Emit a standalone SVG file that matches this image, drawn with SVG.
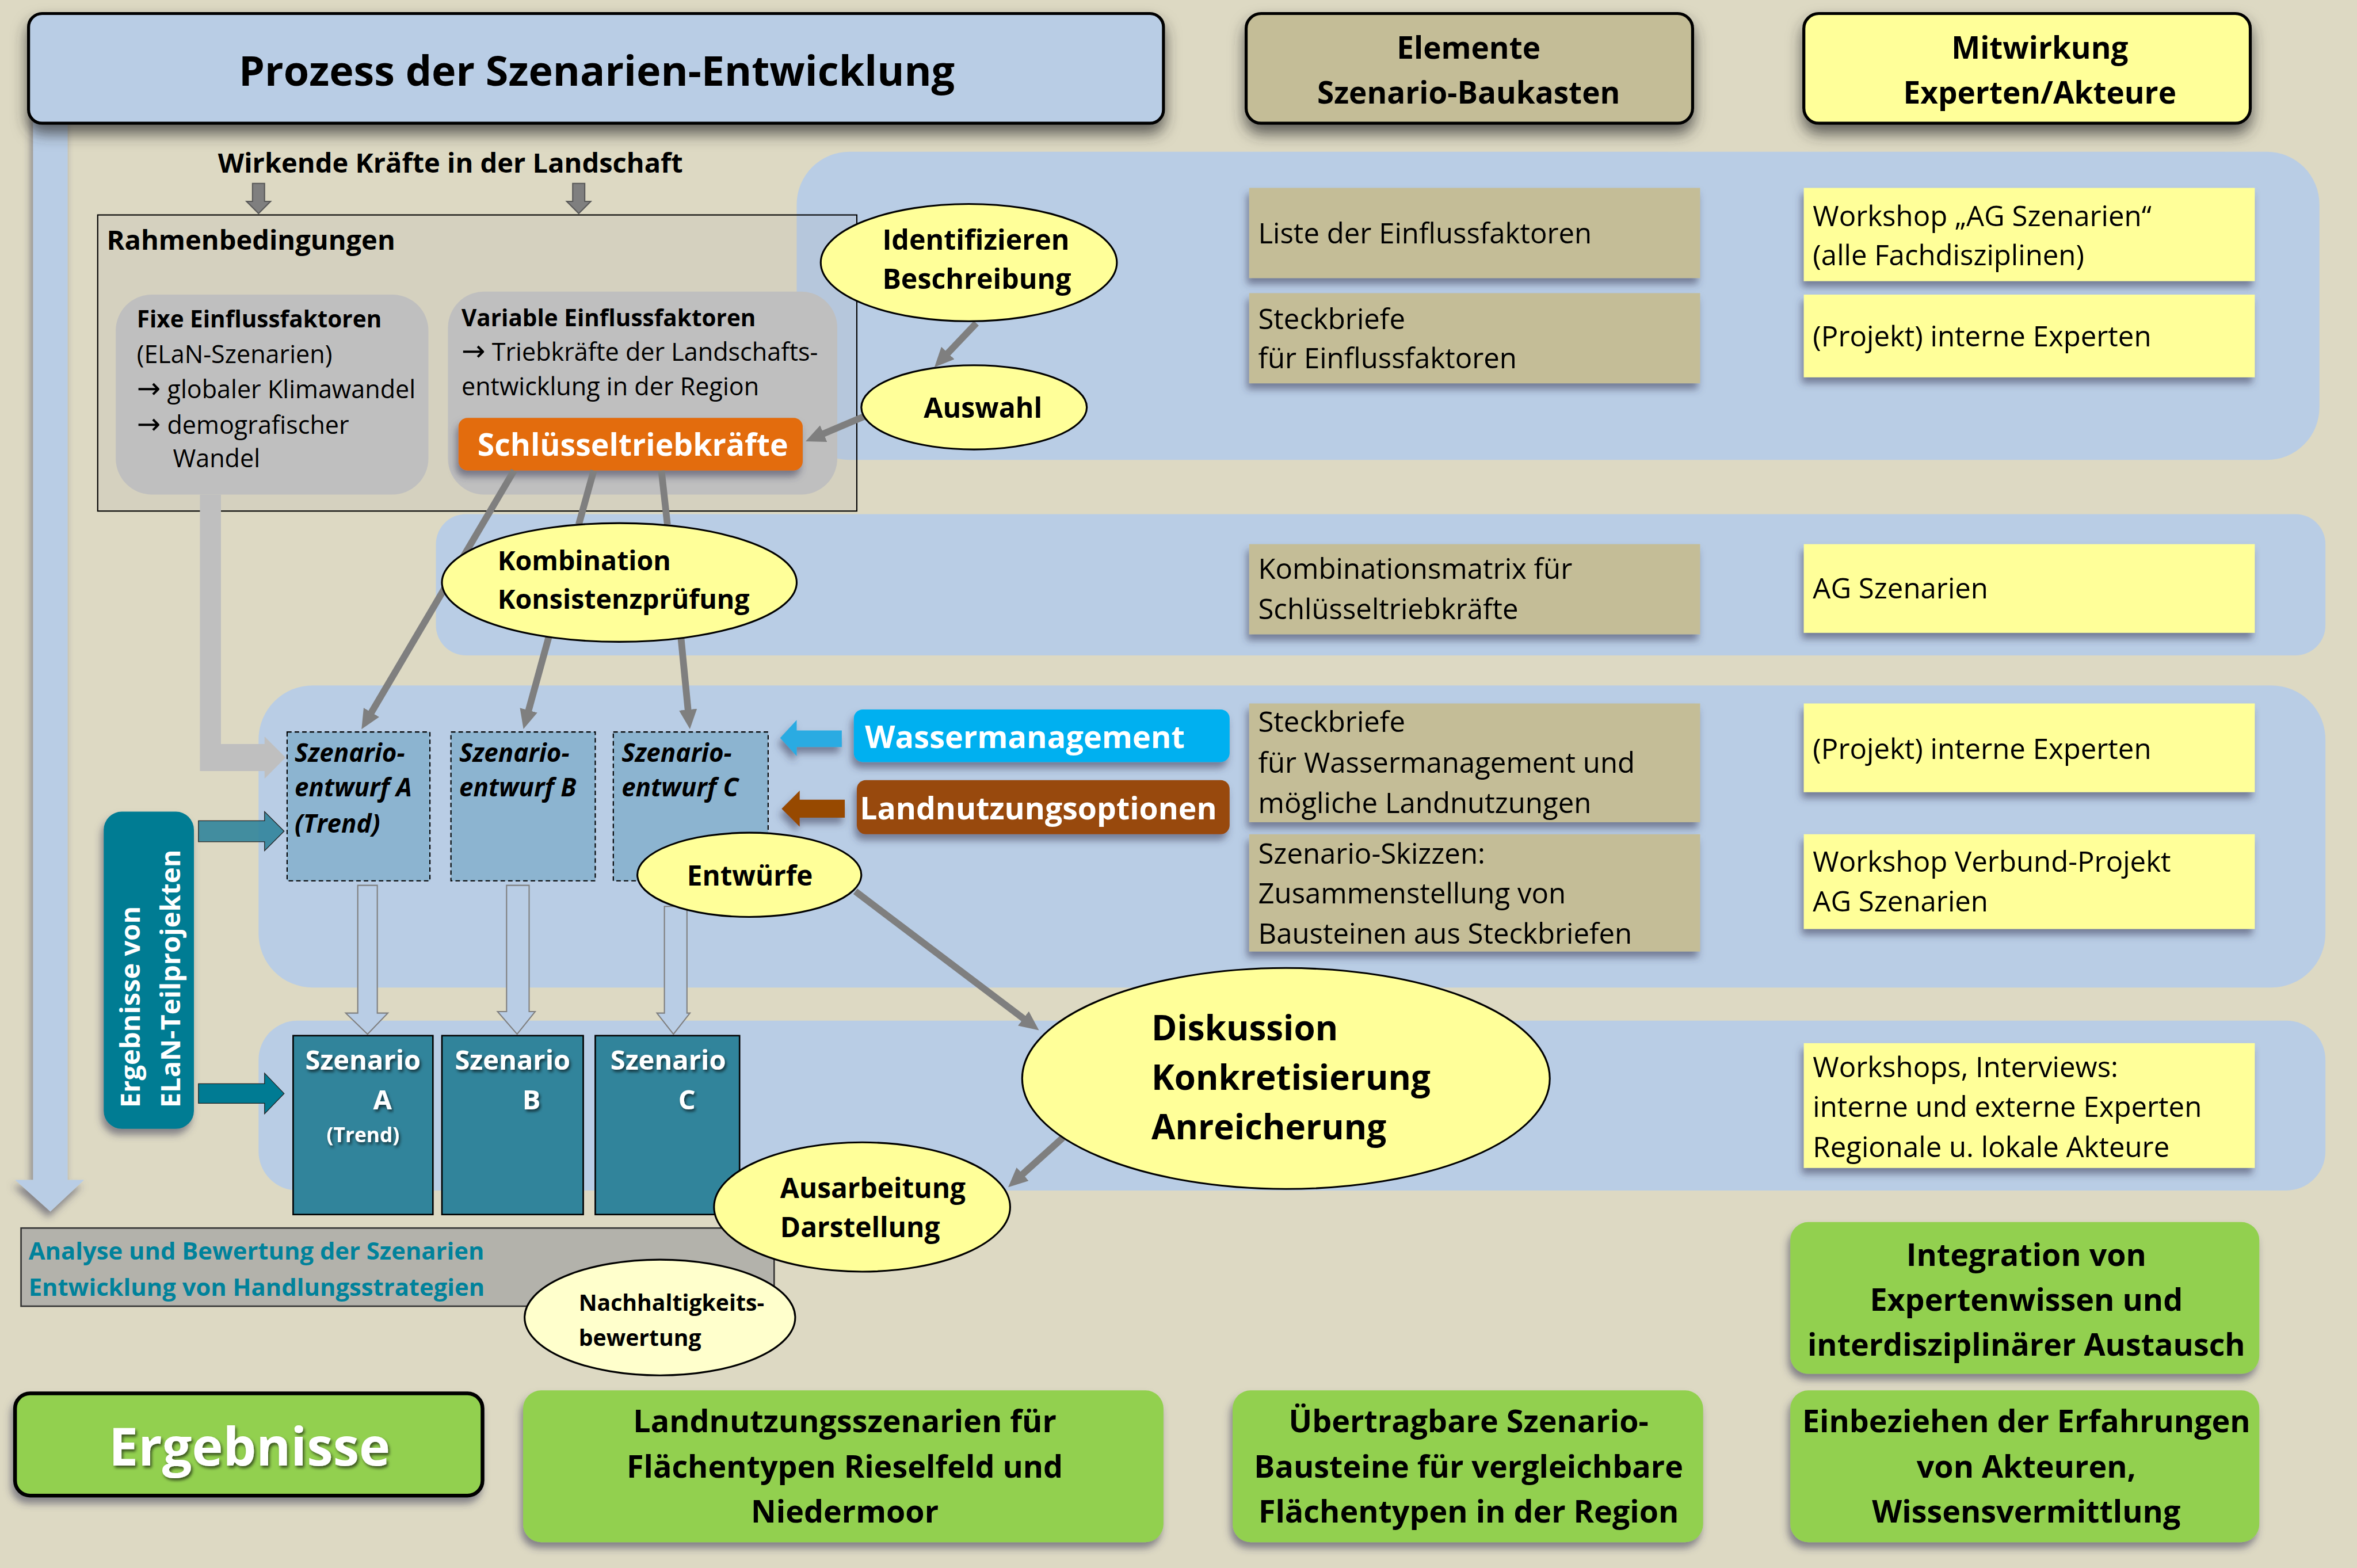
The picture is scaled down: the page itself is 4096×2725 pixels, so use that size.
<svg xmlns="http://www.w3.org/2000/svg" width="4096" height="2725" viewBox="0 0 4096 2725">
<defs>
<style>
text{font-family:'Open Sans','DejaVu Sans',sans-serif;fill:#000}
.b{font-weight:700}
.bi{font-weight:700;font-style:italic}
.mid{text-anchor:middle}
.band{fill:#B9CDE5}
.kh{fill:#C4BD97}
.ye{fill:#FFFF99}
.gr{fill:#92D050}
.ell{fill:#FFFF99;stroke:#000;stroke-width:1.2}
.ent{fill:#8CB4D0;stroke:#000;stroke-width:0.8;stroke-dasharray:3 2}
.scn{fill:#31849B;stroke:#000;stroke-width:1}
.rt{font-size:18.8px}
.gt{font-size:20.6px;font-weight:700}
.hd{font-size:20.3px;font-weight:700;text-anchor:middle}
.ar{font-size:19px}
.con{stroke:#7F7F7F;stroke-width:4.5;fill:none}
.wt{fill:#fff}
</style>
<filter id="sh" x="-20%" y="-20%" width="140%" height="150%">
<feDropShadow dx="-1.5" dy="4" stdDeviation="2.5" flood-color="#3a3a55" flood-opacity="0.55"/>
</filter>
<filter id="shT" x="-10%" y="-20%" width="120%" height="170%">
<feDropShadow dx="0" dy="6" stdDeviation="5" flood-color="#333" flood-opacity="0.75"/>
</filter>
<filter id="tsh" x="-10%" y="-20%" width="120%" height="150%">
<feDropShadow dx="1" dy="1.5" stdDeviation="1" flood-color="#000" flood-opacity="0.6"/>
</filter>
<marker id="ah" viewBox="0 0 13 12" refX="1" refY="6" markerWidth="13" markerHeight="12" markerUnits="userSpaceOnUse" orient="auto">
<path d="M0,0 L13,6 L0,12 z" fill="#7F7F7F"/>
</marker>
</defs>
<rect width="4096" height="2725" fill="#DDD9C3"/>
<g transform="scale(2.612245)">
<g id="bands">
<rect class="band" x="530" y="101" width="1013" height="205" rx="35"/>
<rect class="band" x="290" y="342" width="1257" height="94" rx="20"/>
<rect class="band" x="172" y="456" width="1375" height="201" rx="36"/>
<rect class="band" x="172" y="679" width="1375" height="113" rx="26"/>
</g>
<g id="process-arrow">
<path d="M22,72 L45,72 L45,785 L56,785 L33.5,806 L10,785 L22,785 z" fill="#B9CDE5" filter="url(#sh)"/>
</g>
<g id="title">
<rect x="19" y="9" width="755" height="73" rx="9" fill="#B9CDE5" stroke="#000" stroke-width="2" filter="url(#shT)"/>
<text class="b mid" x="397" y="57" font-size="27.5">Prozess der Szenarien-Entwicklung</text>
</g>
<g id="hdr-elemente">
<rect x="829" y="9" width="297" height="73" rx="10" fill="#C4BD97" stroke="#000" stroke-width="2" filter="url(#shT)"/>
<text class="hd" x="977" y="39">Elemente</text>
<text class="hd" x="977" y="69">Szenario-Baukasten</text>
</g>
<g id="hdr-mitwirkung">
<rect x="1200" y="9" width="297" height="73" rx="10" fill="#FFFF99" stroke="#000" stroke-width="2" filter="url(#shT)"/>
<text class="hd" x="1357" y="39">Mitwirkung</text>
<text class="hd" x="1357" y="69">Experten/Akteure</text>
</g>
<g id="wirkende">
<text class="b" x="145" y="115" font-size="18">Wirkende Kräfte in der Landschaft</text>
</g>
<g id="rahmen">
<rect x="65" y="143" width="505" height="197" fill="#A8A8A8" fill-opacity="0.15" stroke="#000" stroke-width="0.8"/>
<text class="b" x="71" y="166" font-size="18">Rahmenbedingungen</text>
</g>
<g id="fixe">
<rect x="77" y="196" width="208" height="133" rx="24" fill="#BFBFBF"/>
<text class="b" x="91" y="218" font-size="15.5">Fixe Einflussfaktoren</text>
<text x="91" y="241.5" font-size="16.5">(ELaN-Szenarien)</text>
<text x="91" y="265" font-size="16.5"><tspan class="ar">→</tspan> globaler Klimawandel</text>
<text x="91" y="288.5" font-size="16.5"><tspan class="ar">→</tspan> demografischer</text>
<text x="115" y="311" font-size="16.5">Wandel</text>
</g>
<g id="variable">
<rect x="298" y="194" width="259" height="135" rx="24" fill="#BFBFBF"/>
<text class="b" x="307" y="217" font-size="15.5">Variable Einflussfaktoren</text>
<text x="307" y="240" font-size="16.5"><tspan class="ar">→</tspan> Triebkräfte der Landschafts-</text>
<text x="307" y="263" font-size="16.5">entwicklung in der Region</text>
</g>
<g id="schluessel">
<rect x="305" y="278" width="229" height="35" rx="6" fill="#E36C0A" filter="url(#sh)"/>
<text class="b mid wt" x="421" y="303" font-size="20.5">Schlüsseltriebkräfte</text>
</g>
<g id="connectors">
<path d="M168,122 L176,122 L176,134 L180,134 L172,142 L164,134 L168,134 z" fill="#7F7F7F" stroke="#595959" stroke-width="0.8"/>
<path d="M381,122 L389,122 L389,134 L393,134 L385,142 L377,134 L381,134 z" fill="#7F7F7F" stroke="#595959" stroke-width="0.8"/>
<path d="M133,329 L147,329 L147,495 L176,495 L176,490 L190,504 L176,518 L176,513 L133,513 z" fill="#BFBFBF"/>
<path d="M132,546 L176,546 L176,540 L189,553 L176,566 L176,560 L132,560 z" fill="#31849B" fill-opacity="0.9" stroke="#222" stroke-width="0.5"/>
<path d="M132,721 L176,721 L176,714 L189,727.5 L176,741 L176,734 L132,734 z" fill="#007B93" stroke="#222" stroke-width="0.5"/>
<path d="M560,486 L530,486 L530,479 L519,491 L530,503 L530,497 L560,497 z" fill="#29ABE2" filter="url(#sh)"/>
<path d="M562,532 L532,532 L532,526 L520,538 L532,550 L532,544 L562,544 z" fill="#974806" filter="url(#sh)"/>
<line class="con" x1="649.5" y1="215" x2="629.9" y2="235.6" marker-end="url(#ah)"/>
<line class="con" x1="575" y1="277" x2="547" y2="288.9" marker-end="url(#ah)"/>
<line class="con" x1="342" y1="313" x2="246.6" y2="474.8" marker-end="url(#ah)"/>
<line class="con" x1="395" y1="313" x2="385" y2="349"/>
<line class="con" x1="365" y1="424" x2="351.4" y2="473.5" marker-end="url(#ah)"/>
<line class="con" x1="440" y1="313" x2="444" y2="349"/>
<line class="con" x1="453" y1="424" x2="457.8" y2="473.1" marker-end="url(#ah)"/>
<line class="con" x1="569" y1="593" x2="681.6" y2="678.2" marker-end="url(#ah)"/>
<line class="con" x1="707" y1="757" x2="679.6" y2="781.8" marker-end="url(#ah)"/>
<path d="M238,589 L251,589 L251,674 L258,674 L244.5,688 L230,674 L238,674 z" fill="#B9CDE5" stroke="#7F7F7F" stroke-width="0.8"/>
<path d="M337,589 L352,589 L352,673 L356,673 L344,688 L331,673 L337,673 z" fill="#B9CDE5" stroke="#7F7F7F" stroke-width="0.8"/>
<path d="M442,603 L457,603 L457,674 L459,674 L448,688 L437,674 L442,674 z" fill="#B9CDE5" stroke="#7F7F7F" stroke-width="0.8"/>
</g>
<g id="identifizieren">
<ellipse class="ell" cx="644.5" cy="174.7" rx="98.5" ry="39"/>
<text class="b" x="587" y="166" font-size="18.5">Identifizieren</text>
<text class="b" x="587" y="192" font-size="18.5">Beschreibung</text>
</g>
<g id="auswahl">
<ellipse class="ell" cx="648" cy="271" rx="75" ry="28"/>
<text class="b" x="614.5" y="278" font-size="18.5">Auswahl</text>
</g>
<g id="kombination">
<ellipse class="ell" cx="412" cy="387.5" rx="118" ry="39.5"/>
<text class="b" x="331" y="379.5" font-size="17.8">Kombination</text>
<text class="b" x="331" y="405" font-size="17.8">Konsistenzprüfung</text>
</g>
<g id="entwurf-a">
<rect class="ent" x="191" y="487" width="95" height="99"/>
<text class="bi" x="196" y="507" font-size="16.8">Szenario-</text>
<text class="bi" x="196" y="530" font-size="16.8">entwurf A</text>
<text class="bi" x="196" y="554" font-size="16.8">(Trend)</text>
</g>
<g id="entwurf-b">
<rect class="ent" x="300" y="487" width="96" height="99"/>
<text class="bi" x="305.5" y="507" font-size="16.8">Szenario-</text>
<text class="bi" x="305.5" y="530" font-size="16.8">entwurf B</text>
</g>
<g id="entwurf-c">
<rect class="ent" x="408" y="487" width="103" height="99"/>
<text class="bi" x="413.5" y="507" font-size="16.8">Szenario-</text>
<text class="bi" x="413.5" y="530" font-size="16.8">entwurf C</text>
</g>
<g id="wassermanagement">
<rect x="568" y="472" width="250" height="35" rx="6" fill="#00B0F0" filter="url(#sh)"/>
<text class="b wt" x="575.5" y="497.5" font-size="20.7">Wassermanagement</text>
</g>
<g id="landnutzungsoptionen">
<rect x="570" y="519" width="248" height="36" rx="6" fill="#984807" filter="url(#sh)"/>
<text class="b wt" x="572" y="545" font-size="20.5">Landnutzungsoptionen</text>
</g>
<g id="entwuerfe">
<ellipse class="ell" cx="498.5" cy="582" rx="74.5" ry="28"/>
<text class="b" x="457" y="589" font-size="18.2">Entwürfe</text>
</g>
<g id="ergebnisse-von">
<rect x="69" y="540" width="60" height="211" rx="12" fill="#007B93" filter="url(#sh)"/>
<text class="b wt" transform="translate(93,737) rotate(-90)" font-size="18">Ergebnisse von</text>
<text class="b wt" transform="translate(120,737) rotate(-90)" font-size="18">ELaN-Teilprojekten</text>
</g>
<g id="szenario-a">
<rect class="scn" x="195" y="689" width="93" height="119"/>
<text class="b mid wt" x="241.5" y="711.5" font-size="18" filter="url(#tsh)">Szenario</text>
<text class="b mid wt" x="254.5" y="738" font-size="18" filter="url(#tsh)">A</text>
<text class="b mid wt" x="241.5" y="760" font-size="13.5" filter="url(#tsh)">(Trend)</text>
</g>
<g id="szenario-b">
<rect class="scn" x="294" y="689" width="94" height="119"/>
<text class="b mid wt" x="341" y="711.5" font-size="18" filter="url(#tsh)">Szenario</text>
<text class="b mid wt" x="353.5" y="738" font-size="18" filter="url(#tsh)">B</text>
</g>
<g id="szenario-c">
<rect class="scn" x="396" y="689" width="96" height="119"/>
<text class="b mid wt" x="444.5" y="711.5" font-size="18" filter="url(#tsh)">Szenario</text>
<text class="b mid wt" x="457" y="738" font-size="18" filter="url(#tsh)">C</text>
</g>
<g id="analyse">
<rect x="14" y="817" width="501" height="52" fill="#B3B2AB" stroke="#333" stroke-width="1"/>
<text class="b" x="19" y="838" font-size="16" style="fill:#00829B">Analyse und Bewertung der Szenarien</text>
<text class="b" x="19" y="862" font-size="16" style="fill:#00829B">Entwicklung von Handlungsstrategien</text>
</g>
<g id="diskussion">
<ellipse class="ell" cx="855.5" cy="717.5" rx="175.5" ry="73.5"/>
<text class="b" x="766" y="692" font-size="23">Diskussion</text>
<text class="b" x="766" y="725" font-size="23">Konkretisierung</text>
<text class="b" x="766" y="758" font-size="23">Anreicherung</text>
</g>
<g id="ausarbeitung">
<ellipse class="ell" cx="573.5" cy="803" rx="98.5" ry="43"/>
<text class="b" x="519" y="797" font-size="18.3">Ausarbeitung</text>
<text class="b" x="519" y="823" font-size="18.3">Darstellung</text>
</g>
<g id="nachhaltigkeit">
<ellipse cx="439" cy="876.5" rx="90" ry="38.5" fill="#FFFFCC" stroke="#000" stroke-width="1.2"/>
<text class="b" x="385" y="872" font-size="15">Nachhaltigkeits-</text>
<text class="b" x="385" y="895.5" font-size="15">bewertung</text>
</g>
<g id="bk-liste">
<rect class="kh" x="831" y="125" width="300" height="60" filter="url(#sh)"/>
<text class="rt" x="837" y="162">Liste der Einflussfaktoren</text>
</g>
<g id="bk-steckbriefe">
<rect class="kh" x="831" y="195" width="300" height="60" filter="url(#sh)"/>
<text class="rt" x="837" y="219">Steckbriefe</text>
<text class="rt" x="837" y="245">für Einflussfaktoren</text>
</g>
<g id="bk-kombi">
<rect class="kh" x="831" y="362" width="300" height="60" filter="url(#sh)"/>
<text class="rt" x="837" y="385">Kombinationsmatrix für</text>
<text class="rt" x="837" y="412">Schlüsseltriebkräfte</text>
</g>
<g id="bk-wasser">
<rect class="kh" x="831" y="468" width="300" height="79" filter="url(#sh)"/>
<text class="rt" x="837" y="487">Steckbriefe</text>
<text class="rt" x="837" y="514">für Wassermanagement und</text>
<text class="rt" x="837" y="541">mögliche Landnutzungen</text>
</g>
<g id="bk-skizzen">
<rect class="kh" x="831" y="555" width="300" height="78" filter="url(#sh)"/>
<text class="rt" x="837" y="574.5">Szenario-Skizzen:</text>
<text class="rt" x="837" y="601">Zusammenstellung von</text>
<text class="rt" x="837" y="628">Bausteinen aus Steckbriefen</text>
</g>
<g id="mw-workshop">
<rect class="ye" x="1200" y="125" width="300" height="62" filter="url(#sh)"/>
<text class="rt" x="1206" y="150.5">Workshop „AG Szenarien“</text>
<text class="rt" x="1206" y="176.5">(alle Fachdisziplinen)</text>
</g>
<g id="mw-intern1">
<rect class="ye" x="1200" y="196" width="300" height="55" filter="url(#sh)"/>
<text class="rt" x="1206" y="230.5">(Projekt) interne Experten</text>
</g>
<g id="mw-ag">
<rect class="ye" x="1200" y="362" width="300" height="59" filter="url(#sh)"/>
<text class="rt" x="1206" y="398">AG Szenarien</text>
</g>
<g id="mw-intern2">
<rect class="ye" x="1200" y="468" width="300" height="59" filter="url(#sh)"/>
<text class="rt" x="1206" y="505">(Projekt) interne Experten</text>
</g>
<g id="mw-verbund">
<rect class="ye" x="1200" y="555" width="300" height="63" filter="url(#sh)"/>
<text class="rt" x="1206" y="580">Workshop Verbund-Projekt</text>
<text class="rt" x="1206" y="606.5">AG Szenarien</text>
</g>
<g id="mw-workshops">
<rect class="ye" x="1200" y="694" width="300" height="83" filter="url(#sh)"/>
<text class="rt" x="1206" y="716.5">Workshops, Interviews:</text>
<text class="rt" x="1206" y="743">interne und externe Experten</text>
<text class="rt" x="1206" y="770">Regionale u. lokale Akteure</text>
</g>
<g id="ergebnisse">
<rect class="gr" x="10" y="927" width="311" height="68" rx="10" stroke="#000" stroke-width="2.5" filter="url(#sh)"/>
<text class="b mid wt" x="166" y="975" font-size="35" filter="url(#tsh)">Ergebnisse</text>
</g>
<g id="erg-landnutzung">
<rect class="gr" x="348" y="925" width="426" height="101" rx="12" filter="url(#sh)"/>
<text class="gt mid" x="562" y="953">Landnutzungsszenarien für</text>
<text class="gt mid" x="562" y="983">Flächentypen Rieselfeld und</text>
<text class="gt mid" x="562" y="1013">Niedermoor</text>
</g>
<g id="erg-bausteine">
<rect class="gr" x="820" y="925" width="313" height="101" rx="12" filter="url(#sh)"/>
<text class="gt mid" x="977" y="953">Übertragbare Szenario-</text>
<text class="gt mid" x="977" y="983">Bausteine für vergleichbare</text>
<text class="gt mid" x="977" y="1013">Flächentypen in der Region</text>
</g>
<g id="erg-integration">
<rect class="gr" x="1191" y="813" width="312" height="101" rx="12" filter="url(#sh)"/>
<text class="gt mid" x="1348" y="842">Integration von</text>
<text class="gt mid" x="1348" y="872">Expertenwissen und</text>
<text class="gt mid" x="1348" y="902">interdisziplinärer Austausch</text>
</g>
<g id="erg-akteure">
<rect class="gr" x="1191" y="925" width="312" height="101" rx="12" filter="url(#sh)"/>
<text class="gt mid" x="1348" y="953">Einbeziehen der Erfahrungen</text>
<text class="gt mid" x="1348" y="983">von Akteuren,</text>
<text class="gt mid" x="1348" y="1013">Wissensvermittlung</text>
</g>
</g>
</svg>
